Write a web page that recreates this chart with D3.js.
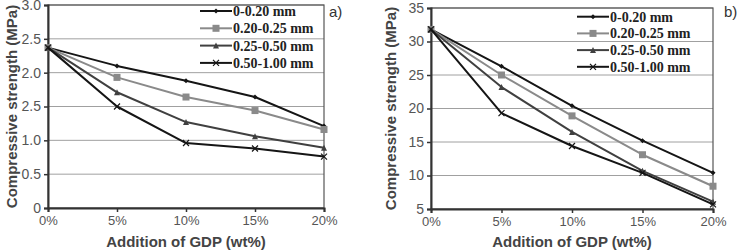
<!DOCTYPE html>
<html><head><meta charset="utf-8">
<script src="https://cdn.jsdelivr.net/npm/d3@7"></script>
<style>body{margin:0;background:#fff}svg{display:block}</style>
</head><body><svg id="c" width="737" height="252"></svg>
<script>
const categories = ["0%", "5%", "10%", "15%", "20%"];
const seriesNames = ["0-0.20 mm", "0.20-0.25 mm", "0.25-0.50 mm", "0.50-1.00 mm"];
// Panel a)
const aS1 = [2.37, 2.10, 1.88, 1.64, 1.21];
const aS2 = [2.37, 1.93, 1.64, 1.44, 1.16];
const aS3 = [2.37, 1.71, 1.27, 1.06, 0.89];
const aS4 = [2.37, 1.50, 0.96, 0.88, 0.76];
const aTickValues = [0, 0.5, 1.0, 1.5, 2.0, 2.5, 3.0];
const aTickLabels = ["0", "0.5", "1.0", "2.5", "2.0", "2.5", "3.0"];
// Panel b)
const bS1 = [31.8, 26.3, 20.4, 15.2, 10.4];
const bS2 = [31.8, 25.0, 18.9, 13.1, 8.4];
const bS3 = [31.8, 23.2, 16.5, 10.7, 6.1];
const bS4 = [31.8, 19.3, 14.4, 10.4, 5.7];
const bTickValues = [5, 10, 15, 20, 25, 30, 35];
const bTickLabels = ["5", "10", "15", "20", "25", "30", "35"];

const styles = [
  {color: "#151515", marker: "diamond", size: 5},
  {color: "#8a8a8a", marker: "square", size: 7},
  {color: "#404040", marker: "triangle", size: 6},
  {color: "#151515", marker: "x", size: 6}
];

const svg = d3.select("#c");

function marker(g, type, x, y, s, color) {
  if (type === "diamond") {
    g.append("path").attr("d", `M${x},${y - s / 2}L${x + s / 2},${y}L${x},${y + s / 2}L${x - s / 2},${y}Z`).attr("fill", color);
  } else if (type === "square") {
    g.append("rect").attr("x", x - s / 2).attr("y", y - s / 2).attr("width", s).attr("height", s).attr("fill", color);
  } else if (type === "triangle") {
    g.append("path").attr("d", `M${x},${y - s / 2}L${x + s / 2},${y + s / 2}L${x - s / 2},${y + s / 2}Z`).attr("fill", color);
  } else {
    const h = s / 2;
    g.append("path").attr("d", `M${x - h},${y - h}L${x + h},${y + h}M${x - h},${y + h}L${x + h},${y - h}`).attr("stroke", color).attr("stroke-width", 1.2).attr("fill", "none");
  }
}

function panel(cfg) {
  const {x0, x1, y0, y1, domain, tickValues, tickLabels, series, label, labelX, yTitleX, legX, legY, legStep} = cfg;
  const x = d3.scalePoint().domain(categories).range([x0, x1]);
  const y = d3.scaleLinear().domain(domain).range([y1, y0]);
  const g = svg.append("g");

  g.append("g").selectAll("line").data(tickValues).join("line")
    .attr("x1", x0).attr("x2", x1).attr("y1", d => y(d)).attr("y2", d => y(d))
    .attr("stroke", "#a0a0a0").attr("stroke-width", 1);
  g.append("rect").attr("x", x0).attr("y", y0).attr("width", x1 - x0).attr("height", y1 - y0)
    .attr("fill", "none").attr("stroke", "#555").attr("stroke-width", 1.2);

  const ya = g.append("g").attr("transform", `translate(${x0},0)`)
    .call(d3.axisLeft(y).tickValues(tickValues).tickFormat((d, i) => tickLabels[i]).tickSize(4).tickPadding(3));
  ya.select(".domain").attr("stroke", "#333").attr("stroke-width", 2);
  ya.selectAll(".tick line").attr("stroke", "#333").attr("stroke-width", 1.5);
  ya.selectAll("text").attr("font-family", "Liberation Sans, Arial, sans-serif").attr("font-size", 14).attr("fill", "#555");

  const xa = g.append("g").attr("transform", `translate(0,${y1})`)
    .call(d3.axisBottom(x).tickSize(4).tickPadding(4));
  xa.select(".domain").attr("stroke", "#333").attr("stroke-width", 2);
  xa.selectAll(".tick line").attr("stroke", "#333").attr("stroke-width", 1.5);
  xa.selectAll("text").attr("font-family", "Liberation Sans, Arial, sans-serif").attr("font-size", 13).attr("fill", "#555");

  g.append("text").attr("x", (x0 + x1) / 2).attr("y", 247).attr("text-anchor", "middle")
    .attr("font-family", "Liberation Sans, Arial, sans-serif").attr("font-weight", "bold").attr("font-size", 15).attr("fill", "#444")
    .text("Addition of GDP (wt%)");
  g.append("text").attr("transform", `translate(${yTitleX},${(y0 + y1) / 2}) rotate(-90)`).attr("text-anchor", "middle")
    .attr("dy", "0.35em")
    .attr("font-family", "Liberation Sans, Arial, sans-serif").attr("font-weight", "bold").attr("font-size", 15).attr("fill", "#444")
    .text("Compressive strength (MPa)");
  g.append("text").attr("x", labelX).attr("y", 17)
    .attr("font-family", "Liberation Sans, Arial, sans-serif").attr("font-size", 15).attr("fill", "#333").text(label);

  const line = d3.line().x((d, i) => x(categories[i])).y(d => y(d));
  series.forEach((s, k) => {
    const st = styles[k];
    g.append("path").attr("d", line(s)).attr("fill", "none").attr("stroke", st.color).attr("stroke-width", 2)
      .attr("stroke-linejoin", "round");
    const mg = g.append("g");
    s.forEach((v, i) => marker(mg, st.marker, x(categories[i]), y(v), st.size, st.color));
  });

  seriesNames.forEach((name, k) => {
    const st = styles[k];
    const ly = legY + k * legStep;
    const lg = g.append("g");
    lg.append("line").attr("x1", legX).attr("x2", legX + 32).attr("y1", ly).attr("y2", ly)
      .attr("stroke", st.color).attr("stroke-width", 2);
    marker(lg, st.marker, legX + 16, ly, st.size, st.color);
    lg.append("text").attr("x", legX + 33).attr("y", ly).attr("dy", "0.35em")
      .attr("font-family", "Liberation Serif, Times New Roman, serif").attr("font-weight", "bold")
      .attr("font-size", 14).attr("fill", "#222").text(name);
  });
}

panel({x0: 48, x1: 324, y0: 5, y1: 208, domain: [0, 3], tickValues: aTickValues, tickLabels: aTickLabels,
  series: [aS1, aS2, aS3, aS4], label: "a)", labelX: 329, yTitleX: 12, legX: 200, legY: 11, legStep: 17.3});
panel({x0: 431, x1: 713, y0: 8, y1: 209, domain: [5, 35], tickValues: bTickValues, tickLabels: bTickLabels,
  series: [bS1, bS2, bS3, bS4], label: "b)", labelX: 724, yTitleX: 391, legX: 577, legY: 16.7, legStep: 16.7});
</script></body></html>
